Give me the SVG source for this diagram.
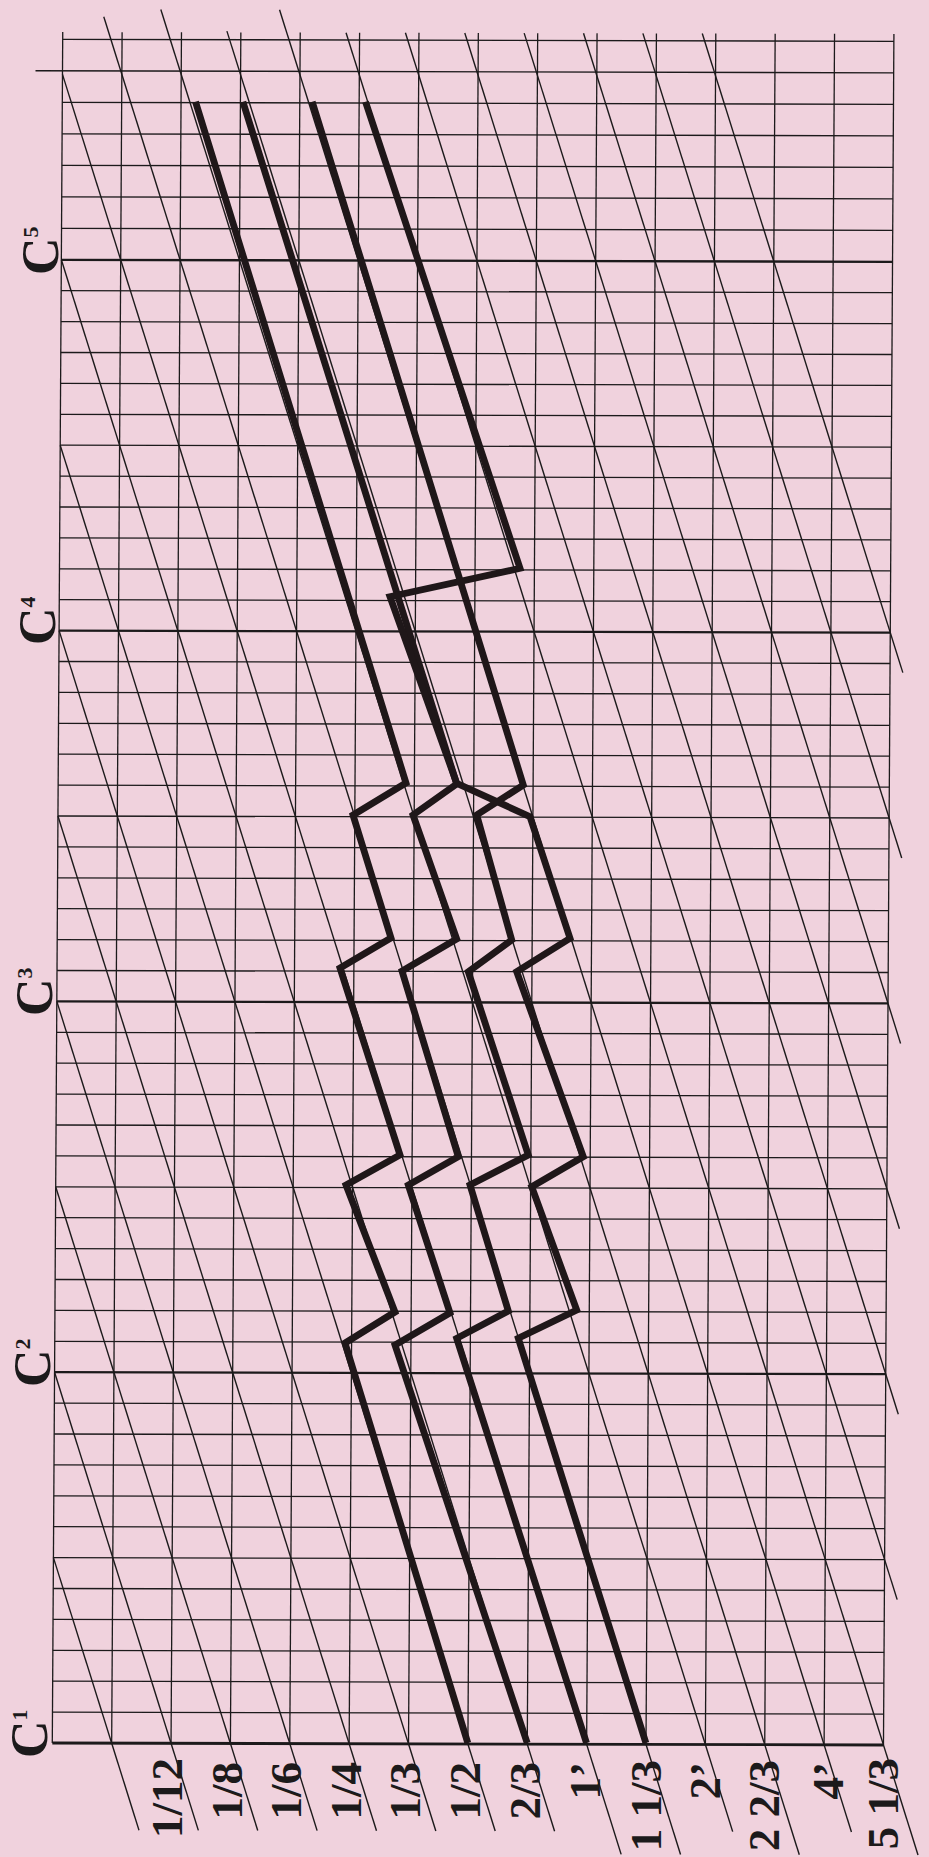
<svg xmlns="http://www.w3.org/2000/svg" width="929" height="1857" viewBox="0 0 929 1857">
<style>
.bg{fill:#f0d2dd}
.g{stroke:#1c1a1b;stroke-width:1.3;fill:none}
.c{stroke:#1c1a1b;stroke-width:2.3;fill:none}
.b{stroke:#1c1a1b;stroke-width:2.8;fill:none}
.d{stroke:#1c1a1b;stroke-width:1.4;fill:none}
.t{stroke:#1f1719;stroke-width:6.8;fill:none;stroke-linejoin:miter;stroke-miterlimit:10}
.lbl{font-family:"Liberation Serif","Times New Roman",serif;font-weight:bold;font-size:45px;fill:#1c1a1b}
.cl{font-family:"Liberation Serif","Times New Roman",serif;font-weight:bold;font-size:52px;fill:#1c1a1b}
.sup{font-size:22px}
</style>
<rect class="bg" x="0" y="0" width="929" height="1857"/>
<g id="grid" transform="matrix(1 0.0024 -0.0061 1 62.93 0)">
<g id="verticals">
<line class="g" x1="0" y1="32" x2="0" y2="1743"/>
<line class="g" x1="59.37" y1="32" x2="59.37" y2="1743"/>
<line class="g" x1="118.74" y1="32" x2="118.74" y2="1743"/>
<line class="g" x1="178.11" y1="32" x2="178.11" y2="1743"/>
<line class="g" x1="237.48" y1="32" x2="237.48" y2="1743"/>
<line class="g" x1="296.85" y1="32" x2="296.85" y2="1743"/>
<line class="g" x1="356.22" y1="32" x2="356.22" y2="1743"/>
<line class="g" x1="415.59" y1="32" x2="415.59" y2="1743"/>
<line class="g" x1="474.96" y1="32" x2="474.96" y2="1743"/>
<line class="g" x1="534.33" y1="32" x2="534.33" y2="1743"/>
<line class="g" x1="593.7" y1="32" x2="593.7" y2="1743"/>
<line class="g" x1="653.07" y1="32" x2="653.07" y2="1743"/>
<line class="g" x1="712.44" y1="32" x2="712.44" y2="1743"/>
<line class="g" x1="771.81" y1="32" x2="771.81" y2="1743"/>
<line class="g" x1="831.18" y1="32" x2="831.18" y2="1743"/>
</g>
<g id="rows">
<line class="b" x1="0" y1="1743" x2="831.18" y2="1743"/>
<line class="g" x1="0" y1="1712.1" x2="831.18" y2="1712.1"/>
<line class="g" x1="0" y1="1681.2" x2="831.18" y2="1681.2"/>
<line class="g" x1="0" y1="1650.3" x2="831.18" y2="1650.3"/>
<line class="g" x1="0" y1="1619.4" x2="831.18" y2="1619.4"/>
<line class="g" x1="0" y1="1588.5" x2="831.18" y2="1588.5"/>
<line class="g" x1="0" y1="1557.6" x2="831.18" y2="1557.6"/>
<line class="g" x1="0" y1="1526.7" x2="831.18" y2="1526.7"/>
<line class="g" x1="0" y1="1495.8" x2="831.18" y2="1495.8"/>
<line class="g" x1="0" y1="1464.9" x2="831.18" y2="1464.9"/>
<line class="g" x1="0" y1="1434" x2="831.18" y2="1434"/>
<line class="g" x1="0" y1="1403.1" x2="831.18" y2="1403.1"/>
<line class="c" x1="0" y1="1372.2" x2="831.18" y2="1372.2"/>
<line class="g" x1="0" y1="1341.3" x2="831.18" y2="1341.3"/>
<line class="g" x1="0" y1="1310.4" x2="831.18" y2="1310.4"/>
<line class="g" x1="0" y1="1279.5" x2="831.18" y2="1279.5"/>
<line class="g" x1="0" y1="1248.6" x2="831.18" y2="1248.6"/>
<line class="g" x1="0" y1="1217.7" x2="831.18" y2="1217.7"/>
<line class="g" x1="0" y1="1186.8" x2="831.18" y2="1186.8"/>
<line class="g" x1="0" y1="1155.9" x2="831.18" y2="1155.9"/>
<line class="g" x1="0" y1="1125" x2="831.18" y2="1125"/>
<line class="g" x1="0" y1="1094.1" x2="831.18" y2="1094.1"/>
<line class="g" x1="0" y1="1063.2" x2="831.18" y2="1063.2"/>
<line class="g" x1="0" y1="1032.3" x2="831.18" y2="1032.3"/>
<line class="c" x1="0" y1="1001.4" x2="831.18" y2="1001.4"/>
<line class="g" x1="0" y1="970.5" x2="831.18" y2="970.5"/>
<line class="g" x1="0" y1="939.6" x2="831.18" y2="939.6"/>
<line class="g" x1="0" y1="908.7" x2="831.18" y2="908.7"/>
<line class="g" x1="0" y1="877.8" x2="831.18" y2="877.8"/>
<line class="g" x1="0" y1="846.9" x2="831.18" y2="846.9"/>
<line class="g" x1="0" y1="816" x2="831.18" y2="816"/>
<line class="g" x1="0" y1="785.1" x2="831.18" y2="785.1"/>
<line class="g" x1="0" y1="754.2" x2="831.18" y2="754.2"/>
<line class="g" x1="0" y1="723.3" x2="831.18" y2="723.3"/>
<line class="g" x1="0" y1="692.4" x2="831.18" y2="692.4"/>
<line class="g" x1="0" y1="661.5" x2="831.18" y2="661.5"/>
<line class="c" x1="0" y1="630.6" x2="831.18" y2="630.6"/>
<line class="g" x1="0" y1="599.7" x2="831.18" y2="599.7"/>
<line class="g" x1="0" y1="568.8" x2="831.18" y2="568.8"/>
<line class="g" x1="0" y1="537.9" x2="831.18" y2="537.9"/>
<line class="g" x1="0" y1="507" x2="831.18" y2="507"/>
<line class="g" x1="0" y1="476.1" x2="831.18" y2="476.1"/>
<line class="g" x1="0" y1="445.2" x2="831.18" y2="445.2"/>
<line class="g" x1="0" y1="414.3" x2="831.18" y2="414.3"/>
<line class="g" x1="0" y1="383.4" x2="831.18" y2="383.4"/>
<line class="g" x1="0" y1="352.5" x2="831.18" y2="352.5"/>
<line class="g" x1="0" y1="321.6" x2="831.18" y2="321.6"/>
<line class="g" x1="0" y1="290.7" x2="831.18" y2="290.7"/>
<line class="c" x1="0" y1="259.8" x2="831.18" y2="259.8"/>
<line class="g" x1="0" y1="228.3" x2="831.18" y2="228.3"/>
<line class="g" x1="0" y1="196.8" x2="831.18" y2="196.8"/>
<line class="g" x1="0" y1="165.3" x2="831.18" y2="165.3"/>
<line class="g" x1="0" y1="133.8" x2="831.18" y2="133.8"/>
<line class="g" x1="0" y1="102.3" x2="831.18" y2="102.3"/>
<line class="g" x1="-27" y1="70.8" x2="831.18" y2="70.8"/>
<line class="g" x1="0" y1="39.3" x2="831.18" y2="39.3"/>
</g>
<g id="diagonals">
<line class="d" x1="0" y1="1557.6" x2="87.23" y2="1830"/>
<line class="d" x1="0" y1="1372.2" x2="146.6" y2="1830"/>
<line class="d" x1="0" y1="1186.8" x2="205.97" y2="1830"/>
<line class="d" x1="0" y1="1001.4" x2="265.34" y2="1830"/>
<line class="d" x1="0" y1="816" x2="324.71" y2="1830"/>
<line class="d" x1="0" y1="630.6" x2="384.08" y2="1830"/>
<line class="d" x1="0" y1="445.2" x2="443.45" y2="1830"/>
<line class="d" x1="0" y1="259.8" x2="502.82" y2="1830"/>
<line class="d" x1="0" y1="74.4" x2="569.55" y2="1853"/>
<line class="d" x1="40.94" y1="16.7" x2="628.92" y2="1853"/>
<line class="d" x1="97.94" y1="9.3" x2="680.93" y2="1830"/>
<line class="d" x1="164.16" y1="30.7" x2="747.66" y2="1853"/>
<line class="d" x1="216.68" y1="9.3" x2="799.67" y2="1830"/>
<line class="d" x1="283.31" y1="32" x2="866.4" y2="1853"/>
<line class="d" x1="342.68" y1="32" x2="843.99" y2="1597.6"/>
<line class="d" x1="402.05" y1="32" x2="843.99" y2="1412.2"/>
<line class="d" x1="461.42" y1="32" x2="843.99" y2="1226.8"/>
<line class="d" x1="520.79" y1="32" x2="843.99" y2="1041.4"/>
<line class="d" x1="580.16" y1="32" x2="843.99" y2="856"/>
<line class="d" x1="639.53" y1="32" x2="843.99" y2="670.6"/>
</g>
</g>
<g id="paths">
<path id="pathA" class="t" d="M195.5,101.7 L406,783 L353,815 L391,938 L340,968 L400,1155 L346,1185 L395,1312 L345,1343 L467.8,1743"/>
<path id="pathB" class="t" d="M242.9,101.7 L456.7,784 L413,815 L456.7,939 L402,971 L458.3,1156.7 L408.3,1185 L450,1313 L395,1345 L527.2,1743"/>
<path id="pathC" class="t" d="M312.2,101.7 L523.3,785 L476.7,815 L511.7,940 L468.3,971.7 L528.3,1155 L470,1185 L508.3,1311 L456.7,1338.3 L586.5,1743"/>
<path id="pathD" class="t" d="M365.5,101.7 L520,568.3 L390,596.7 L456.7,783.3 L530,816.7 L570,938.3 L516.7,971.7 L583.3,1156.7 L531.7,1186.7 L576.7,1310 L518.3,1338.3 L645.9,1743"/>
</g>
<g id="octave-labels">
<text class="cl" transform="translate(47,1758) rotate(-90)">C<tspan class="sup" dy="-20">1</tspan></text>
<text class="cl" transform="translate(50,1387) rotate(-90)">C<tspan class="sup" dy="-20">2</tspan></text>
<text class="cl" transform="translate(52,1016) rotate(-90)">C<tspan class="sup" dy="-20">3</tspan></text>
<text class="cl" transform="translate(55,645) rotate(-90)">C<tspan class="sup" dy="-20">4</tspan></text>
<text class="cl" transform="translate(58,275) rotate(-90)">C<tspan class="sup" dy="-20">5</tspan></text>
</g>
<g id="footage-labels">
<text class="lbl" text-anchor="end" transform="translate(182,1758) rotate(-90)">1/12</text>
<text class="lbl" text-anchor="end" transform="translate(241.5,1762) rotate(-90)">1/8</text>
<text class="lbl" text-anchor="end" transform="translate(301,1762) rotate(-90)">1/6</text>
<text class="lbl" text-anchor="end" transform="translate(360.5,1762) rotate(-90)">1/4</text>
<text class="lbl" text-anchor="end" transform="translate(420,1762) rotate(-90)">1/3</text>
<text class="lbl" text-anchor="end" transform="translate(480,1762) rotate(-90)">1/2</text>
<text class="lbl" text-anchor="end" transform="translate(540,1762) rotate(-90)">2/3</text>
<text class="lbl" text-anchor="end" transform="translate(600,1762) rotate(-90)">1’</text>
<text class="lbl" text-anchor="end" transform="translate(661,1760) rotate(-90)">1 1/3</text>
<text class="lbl" text-anchor="end" transform="translate(720,1762) rotate(-90)">2’</text>
<text class="lbl" text-anchor="end" transform="translate(779,1760) rotate(-90)">2 2/3</text>
<text class="lbl" text-anchor="end" transform="translate(843,1762) rotate(-90)">4’</text>
<text class="lbl" text-anchor="end" transform="translate(898,1758) rotate(-90)">5 1/3</text>
</g>
</svg>
